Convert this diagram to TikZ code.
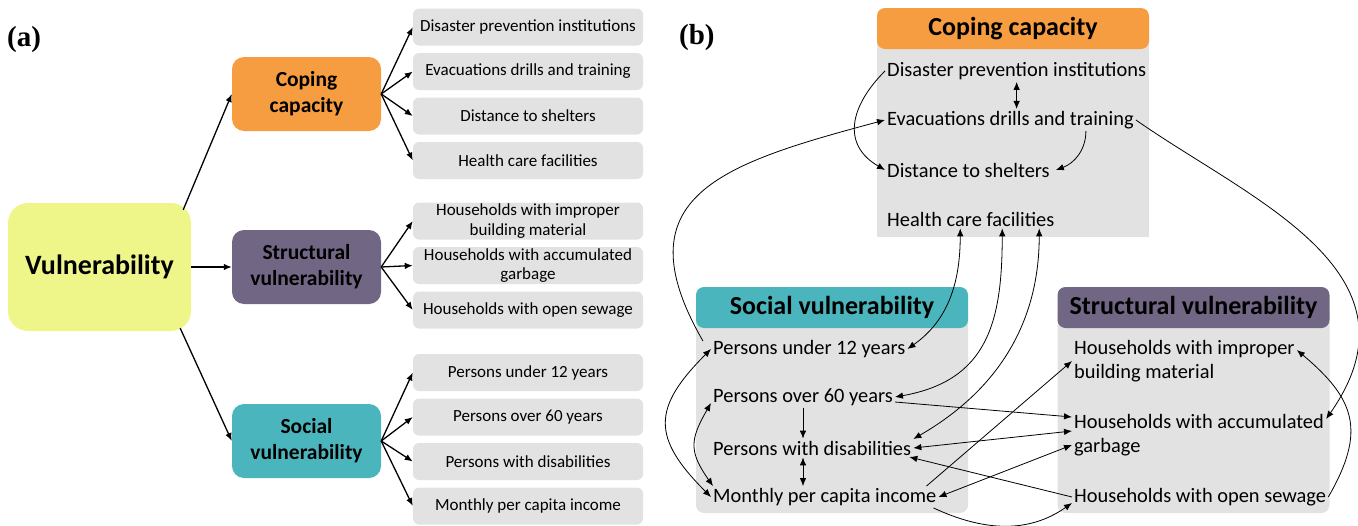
\documentclass[tikz,border=0pt]{standalone}
\usepackage{fontspec}
\setmainfont{Carlito}
\newfontfamily\labelfont{Liberation Serif}
\usetikzlibrary{positioning,arrows.meta}

\definecolor{vulyellow}{RGB}{238,246,138}
\definecolor{copeorange}{RGB}{246,157,66}
\definecolor{structpurple}{RGB}{113,102,131}
\definecolor{socialteal}{RGB}{75,181,190}
\definecolor{itemgray}{RGB}{226,226,226}

\begin{document}
\begin{tikzpicture}[
    x=1pt, y=-1pt,
    node distance=44.5pt,
    >={Latex[length=8pt,width=6.5pt]},
    mainbox/.style={rectangle, rounded corners=20pt, fill=vulyellow, minimum width=183pt, minimum height=128pt, font=\fontsize{28}{32}\selectfont\bfseries},
    catbox/.style={rectangle, rounded corners=12pt, minimum width=149pt, minimum height=74pt, align=center, font=\fontsize{21.5}{26}\selectfont\bfseries},
    item/.style={rectangle, rounded corners=6pt, fill=itemgray, minimum width=230pt, minimum height=37pt, align=center, inner sep=1pt, font=\fontsize{17}{19.5}\selectfont},
    grphead/.style={rectangle, rounded corners=8pt, minimum width=272pt, minimum height=41pt, font=\fontsize{26}{30}\selectfont\bfseries},
    grpbody/.style={rectangle, rounded corners=8pt, fill=itemgray, minimum width=272pt},
    txt/.style={anchor=west, inner sep=2pt, align=left, font=\fontsize{20.4}{24}\selectfont},
    tag/.style={anchor=west, inner sep=0pt, font=\fontsize{29}{32}\labelfont\bfseries},
    arrow/.style={->, line width=1.3pt},
    link/.style={->, line width=0.8pt},
    both/.style={<->, line width=0.8pt}
]
\useasboundingbox (0,0) rectangle (1358,525);

% Panel (a): hierarchy
\node[tag] (taga) at (7,40) {(a)};
\node[mainbox] (vul) at (99.5,267) {Vulnerability};
\node[catbox, fill=copeorange] (cop) at (306.5,94) {Coping\\capacity};
\node[catbox, fill=structpurple] (str) at (306.5,267) {Structural\\vulnerability};
\node[catbox, fill=socialteal] (soc) at (306.5,441) {Social\\vulnerability};

% Indicators
\node[item] (c1) at (528,27) {Disaster prevention institutions};
\node[item, below of=c1] (c2) {Evacuations drills and training};
\node[item, below of=c2] (c3) {Distance to shelters};
\node[item, below of=c3] (c4) {Health care facilities};
\node[item, below of=c4, yshift=-16pt] (t1) {Households with improper\\building material};
\node[item, below of=t1] (t2) {Households with accumulated\\garbage};
\node[item, below of=t2] (t3) {Households with open sewage};
\node[item, below of=t3, yshift=-18pt] (s1) {Persons under 12 years};
\node[item, below of=s1] (s2) {Persons over 60 years};
\node[item, below of=s2] (s3) {Persons with disabilities};
\node[item, below of=s3] (s4) {Monthly per capita income};

% Tree connections
\draw[arrow] ([xshift=-8pt,yshift=-7pt]vul.north east) -- (cop.west);
\draw[arrow] (vul.east) -- (str.west);
\draw[arrow] ([xshift=-11pt,yshift=3pt]vul.south east) -- (soc.west);
\foreach \i in {1,...,4} \draw[arrow] (cop.east) -- (c\i.west);
\foreach \i in {1,2,3} \draw[arrow] (str.east) -- (t\i.west);
\foreach \i in {1,...,4} \draw[arrow] (soc.east) -- (s\i.west);

% Panel (b): groups
\node[tag] (tagb) at (679,38) {(b)};
\node[grpbody, rounded corners=0pt, minimum height=209pt] (cb) at (1013,132.5) {};
\node[grphead, fill=copeorange] (ch) at (1013,28.5) {Coping capacity};
\node[grpbody, minimum height=206pt] (sb) at (832,410) {};
\node[grphead, fill=socialteal] (sh) at (832,307.5) {Social vulnerability};
\node[grpbody, minimum height=206pt] (tb) at (1193.5,410) {};
\node[grphead, fill=structpurple] (th) at (1193.5,307.5) {Structural vulnerability};

% Group members
\foreach \n/\y/\t in {1/71/Disaster prevention institutions, 2/120/Evacuations drills and training,
    3/170/Distance to shelters, 4/219/Health care facilities}
    \node[txt] (cp\n) at (885,\y) {\t};
\foreach \n/\y/\t in {1/349/Persons under 12 years, 2/397/Persons over 60 years,
    3/448/Persons with disabilities, 4/497/Monthly per capita income}
    \node[txt] (so\n) at (711,\y) {\t};
\node[txt] (st1) at (1072,361) {Households with improper\\building material};
\node[txt] (st2) at (1072,435) {Households with accumulated\\garbage};
\node[txt] (st3) at (1072,497) {Households with open sewage};

% Links inside coping capacity
\draw[both] (cp1.south) -- (cp1.south |- cp2.north);
\draw[link] (cp1.west) to[out=225, in=150, looseness=1.3] (cp3.west);
\draw[link] ([xshift=-50pt]cp2.south east) to[out=270, in=20] ([xshift=4pt]cp3.east);
\draw[link] (cp2.east) to[out=-35, in=55, in looseness=1.3] ([yshift=16pt]st2.east);
\draw[link] ([xshift=-8pt,yshift=-3pt]so1.north west) to[out=120, in=195, looseness=1.5] (cp2.west);

% Health care facilities and social
\draw[both] ([xshift=-10.5pt]cp4.south) to[out=270, in=35] (so1.east);
\draw[both] ([xshift=31.5pt]cp4.south) to[out=270, in=10, looseness=1.2] (so2.east);
\draw[both] ([xshift=68.5pt]cp4.south) to[out=270, in=30] ([yshift=9pt]so3.east);

% Links inside social vulnerability
\draw[both] (so1.west) to[out=225, in=135, looseness=1.45] (so4.west);
\draw[both] ([yshift=-6pt]so2.west) to[out=240, in=125, looseness=1.3] ([xshift=2pt]so4.north west);
\draw[link] (so2.south) -- (so2.south |- so3.north);
\draw[both] (so3.south -| so2.south) -- (so4.north -| so2.south);

% Social and structural
\draw[link] ([yshift=-5pt]so2.east) -- ([yshift=18pt]st2.west);
\draw[both] (so3.east) -- ([yshift=4pt]st2.west);
\draw[both] (so4.east) -- ([yshift=-10pt]st2.west);
\draw[link] ([xshift=-12pt]so4.north east) -- (st1.west);
\draw[link] (st3.west) -- ([xshift=-4pt,yshift=-9pt]so3.east);
\draw[link] ([xshift=-5pt]so4.south east) to[out=-25, in=215] ([yshift=-6pt]st3.west);
\draw[link] (st3.east) to[out=60, in=-40, looseness=1.3] ([yshift=11pt]st1.east);
\end{tikzpicture}
\end{document}
